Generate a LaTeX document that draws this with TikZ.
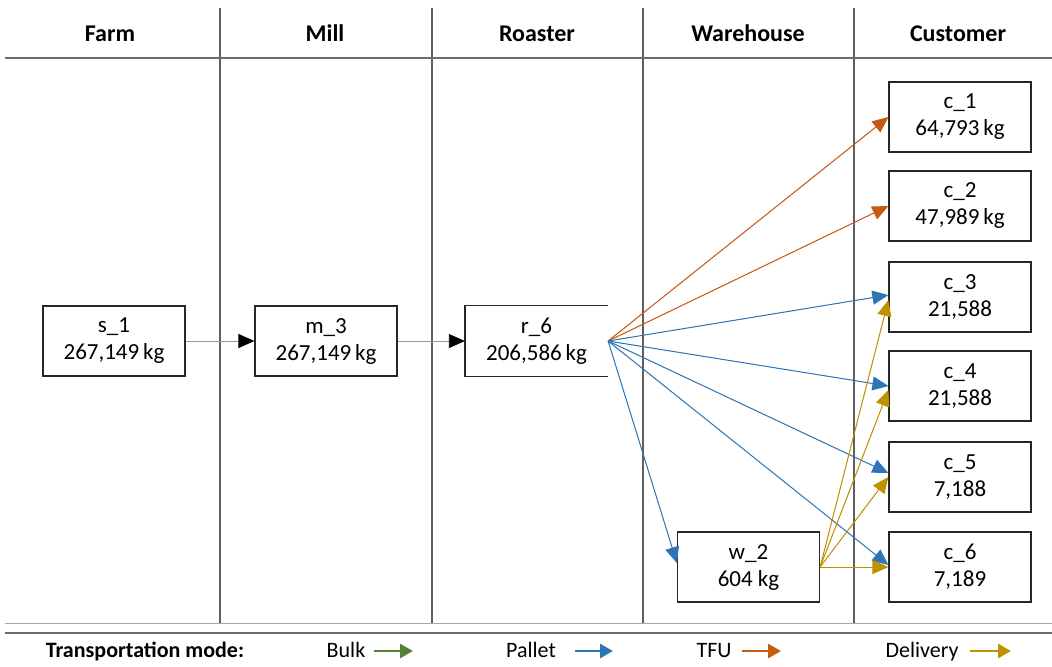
\documentclass[tikz,border=0pt]{standalone}
\usepackage{fontspec}
\setmainfont{Carlito}
\usetikzlibrary{arrows.meta}

\definecolor{bulkc}{RGB}{84,130,53}
\definecolor{palletc}{RGB}{46,117,182}
\definecolor{tfuc}{RGB}{197,90,17}
\definecolor{delivc}{RGB}{191,144,0}
\definecolor{gridc}{RGB}{95,95,95}

\tikzset{
  stage/.style={draw=black!85, line width=0.6pt, minimum width=71pt, minimum height=35pt,
    align=center, inner sep=0pt, font=\fontsize{11.5}{13.5}\selectfont},
  openstage/.style={stage, draw=none},
  head/.style={font=\fontsize{12}{14}\selectfont\bfseries, anchor=base},
  legtext/.style={font=\fontsize{11}{13}\selectfont, anchor=base},
  flowtip/.style={-{Triangle[length=8pt,width=7pt]}},
  chain/.style={draw=gray!80, line width=0.4pt, -{Triangle[length=8pt,width=7pt,color=black]}},
  pallet/.style={flowtip, draw=palletc, fill=palletc, line width=0.5pt},
  tfu/.style={flowtip, draw=tfuc, fill=tfuc, line width=0.5pt},
  deliv/.style={flowtip, draw=delivc, fill=delivc, line width=0.5pt},
  legarrow/.style={line width=1.3pt, -{Triangle[length=6.5pt,width=7pt]}},
  divider/.style={draw=gridc, line width=0.6pt}
}

\begin{document}
\begin{tikzpicture}[x=0.5pt, y=-0.5pt]
\useasboundingbox (0,0) rectangle (1052,666);

% column dividers and rules
\foreach \xx in {220,432,643,854} \draw[divider] (\xx,8) -- (\xx,623);
\draw[draw=gray!85!black, line width=0.9pt] (5,58) -- (1052,58);
\draw[draw=gray!70, line width=0.5pt] (5,623) -- (1052,623);
\draw[draw=gray!85!black, line width=1pt] (5,633) -- (1052,633);

% column headings
\node[head] (hfarm) at (110,41) {Farm};
\node[head] (hmill) at (325,41) {Mill};
\node[head] (hroast) at (537,41) {Roaster};
\node[head] (hware) at (748,41) {Warehouse};
\node[head] (hcust) at (958,41) {Customer};

% supply chain stages
\node[stage] (s1) at (114,341) {s\_1\\267,149\,kg};
\node[stage] (m3) at (326,341) {m\_3\\267,149\,kg};
\node[openstage] (r6) at (536.5,341) {r\_6\\206,586\,kg};
\draw[draw=black!85, line width=0.6pt] (r6.north east) -- (r6.north west) -- (r6.south west) -- (r6.south east);
\node[stage] (w2) at (748.5,567) {w\_2\\604 kg};

\node[stage] (c1) at (960,117) {c\_1\\64,793\,kg};
\node[stage] (c2) at (960,206) {c\_2\\47,989\,kg};
\node[stage] (c3) at (960,297) {c\_3\\21,588};
\node[stage] (c4) at (960,386) {c\_4\\21,588};
\node[stage] (c5) at (960,477) {c\_5\\7,188};
\node[stage] (c6) at (960,567) {c\_6\\7,189};

% bulk flows
\draw[chain] (s1.east) -- (m3.west);
\draw[chain] (m3.east) -- (r6.west);

% TFU flows
\draw[tfu] (r6.east) -- (c1.west);
\draw[tfu] (r6.east) -- (c2.west);

% pallet flows
\draw[pallet] (r6.east) -- ([yshift=1pt]c3.west);
\draw[pallet] (r6.east) -- ([yshift=0pt]c4.west);
\draw[pallet] (r6.east) -- ([yshift=2pt]c5.west);
\draw[pallet] (r6.east) -- ([yshift=1pt]c6.west);
\draw[pallet] (r6.east) -- ([yshift=2pt]w2.west);

% delivery flows
\draw[deliv] (w2.east) -- ([yshift=-1.5pt]c3.west);
\draw[deliv] (w2.east) -- ([yshift=-2pt]c4.west);
\draw[deliv] (w2.east) -- ([yshift=0pt]c5.west);
\draw[deliv] (w2.east) -- (c6.west);

% legend
\node[legtext, font=\fontsize{11}{13}\selectfont\bfseries] (ltitle) at (145,657) {Transportation mode:};
\node[legtext] (lbulk) at (346,657) {Bulk};
\node[legtext] (lpallet) at (531,657) {Pallet};
\node[legtext] (ltfu) at (714,657) {TFU};
\node[legtext] (ldeliv) at (922,657) {Delivery};
\coordinate (bulkA) at (374,651);   \coordinate (bulkB) at (413,651);
\coordinate (palA) at (575,651);    \coordinate (palB) at (613,651);
\coordinate (tfuA) at (742,651);    \coordinate (tfuB) at (781,651);
\coordinate (delA) at (970,651);    \coordinate (delB) at (1011,651);
\draw[legarrow, draw=bulkc, fill=bulkc] (bulkA) -- (bulkB);
\draw[legarrow, draw=palletc, fill=palletc] (palA) -- (palB);
\draw[legarrow, draw=tfuc, fill=tfuc] (tfuA) -- (tfuB);
\draw[legarrow, draw=delivc, fill=delivc] (delA) -- (delB);
\end{tikzpicture}
\end{document}
